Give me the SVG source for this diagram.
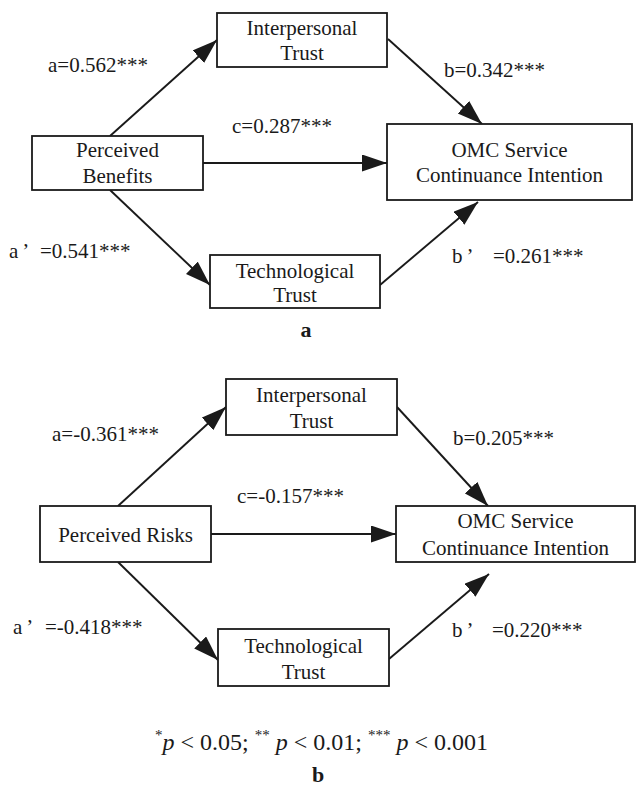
<svg xmlns="http://www.w3.org/2000/svg" width="636" height="791" viewBox="0 0 636 791">
  <style>
    text { font-family: "Liberation Serif", "Times New Roman", serif; fill: #1a1a1a; }
    .node rect { fill: #ffffff; stroke: #1a1a1a; stroke-width: 1.8; }
    .node text { font-size: 21px; text-anchor: middle; }
    .lbl { font-size: 21px; }
    .edge { stroke: #1a1a1a; stroke-width: 1.9; fill: none; marker-end: url(#arrow); }
    .cap { font-size: 22px; font-weight: bold; text-anchor: middle; }
    .note { font-size: 24px; }
  </style>
  <defs>
    <marker id="arrow" markerUnits="userSpaceOnUse" markerWidth="26" markerHeight="18" refX="25" refY="8.5" orient="auto">
      <path d="M0,0 L25,8.5 L0,17 z" fill="#1a1a1a"/>
    </marker>
  </defs>
  <rect width="636" height="791" fill="#ffffff"/>

  <!-- Panel a -->
  <g id="edges-a">
    <line class="edge" x1="110" y1="136" x2="217" y2="40"/>
    <line class="edge" x1="203" y1="163" x2="387" y2="163"/>
    <line class="edge" x1="110" y1="190" x2="210" y2="285"/>
    <line class="edge" x1="388" y1="39" x2="482" y2="124"/>
    <line class="edge" x1="380" y1="285" x2="478" y2="202"/>
  </g>
  <g id="a-interpersonal" class="node">
    <rect x="217" y="13" width="170" height="54"/>
    <text x="302" y="35">Interpersonal</text>
    <text x="302" y="60">Trust</text>
  </g>
  <g id="a-benefits" class="node">
    <rect x="32" y="136" width="171" height="54"/>
    <text x="117.5" y="157">Perceived</text>
    <text x="117.5" y="183">Benefits</text>
  </g>
  <g id="a-technological" class="node">
    <rect x="210" y="255" width="170" height="53"/>
    <text x="295" y="278">Technological</text>
    <text x="295" y="302">Trust</text>
  </g>
  <g id="a-omc" class="node">
    <rect x="387" y="124" width="245" height="76"/>
    <text x="509.5" y="157">OMC Service</text>
    <text x="509.5" y="182">Continuance Intention</text>
  </g>
  <g id="labels-a">
    <text class="lbl" x="48" y="72">a=0.562***</text>
    <text class="lbl" x="232" y="133">c=0.287***</text>
    <text class="lbl" x="9" y="258">a<tspan dx="4">’</tspan><tspan x="40">=0.541***</tspan></text>
    <text class="lbl" x="444" y="77">b=0.342***</text>
    <text class="lbl" x="452" y="263">b<tspan dx="4">’</tspan><tspan x="493">=0.261***</tspan></text>
  </g>
  <text class="cap" x="306" y="337">a</text>

  <!-- Panel b -->
  <g id="edges-b">
    <line class="edge" x1="118" y1="506" x2="226" y2="407"/>
    <line class="edge" x1="211" y1="534" x2="396" y2="534"/>
    <line class="edge" x1="397" y1="407" x2="488" y2="506"/>
    <line class="edge" x1="118" y1="562" x2="218" y2="660"/>
    <line class="edge" x1="389" y1="659" x2="489" y2="574"/>
  </g>
  <g id="b-interpersonal" class="node">
    <rect x="226" y="379" width="171" height="56"/>
    <text x="311.5" y="402">Interpersonal</text>
    <text x="311.5" y="428">Trust</text>
  </g>
  <g id="b-risks" class="node">
    <rect x="40" y="506" width="171" height="56"/>
    <text x="125.5" y="542">Perceived Risks</text>
  </g>
  <g id="b-technological" class="node">
    <rect x="218" y="629" width="171" height="57"/>
    <text x="303.5" y="653">Technological</text>
    <text x="303.5" y="679">Trust</text>
  </g>
  <g id="b-omc" class="node">
    <rect x="396" y="506" width="239" height="56"/>
    <text x="515.5" y="528">OMC Service</text>
    <text x="515.5" y="555">Continuance Intention</text>
  </g>
  <g id="labels-b">
    <text class="lbl" x="52" y="441">a=-0.361***</text>
    <text class="lbl" x="237" y="503">c=-0.157***</text>
    <text class="lbl" x="13" y="634">a<tspan dx="4">’</tspan><tspan x="45">=-0.418***</tspan></text>
    <text class="lbl" x="453" y="445">b=0.205***</text>
    <text class="lbl" x="452" y="637">b<tspan dx="4">’</tspan><tspan x="492">=0.220***</tspan></text>
  </g>

  <!-- significance note -->
  <text class="note" x="155" y="750"><tspan font-size="15" dy="-10">*</tspan><tspan dy="10" font-style="italic">p</tspan> &lt; 0.05; <tspan font-size="15" dy="-10">**</tspan><tspan dy="10"> </tspan><tspan font-style="italic">p</tspan> &lt; 0.01; <tspan font-size="15" dy="-10">***</tspan><tspan dy="10"> </tspan><tspan font-style="italic">p</tspan> &lt; 0.001</text>
  <text class="cap" x="318" y="782">b</text>
</svg>
